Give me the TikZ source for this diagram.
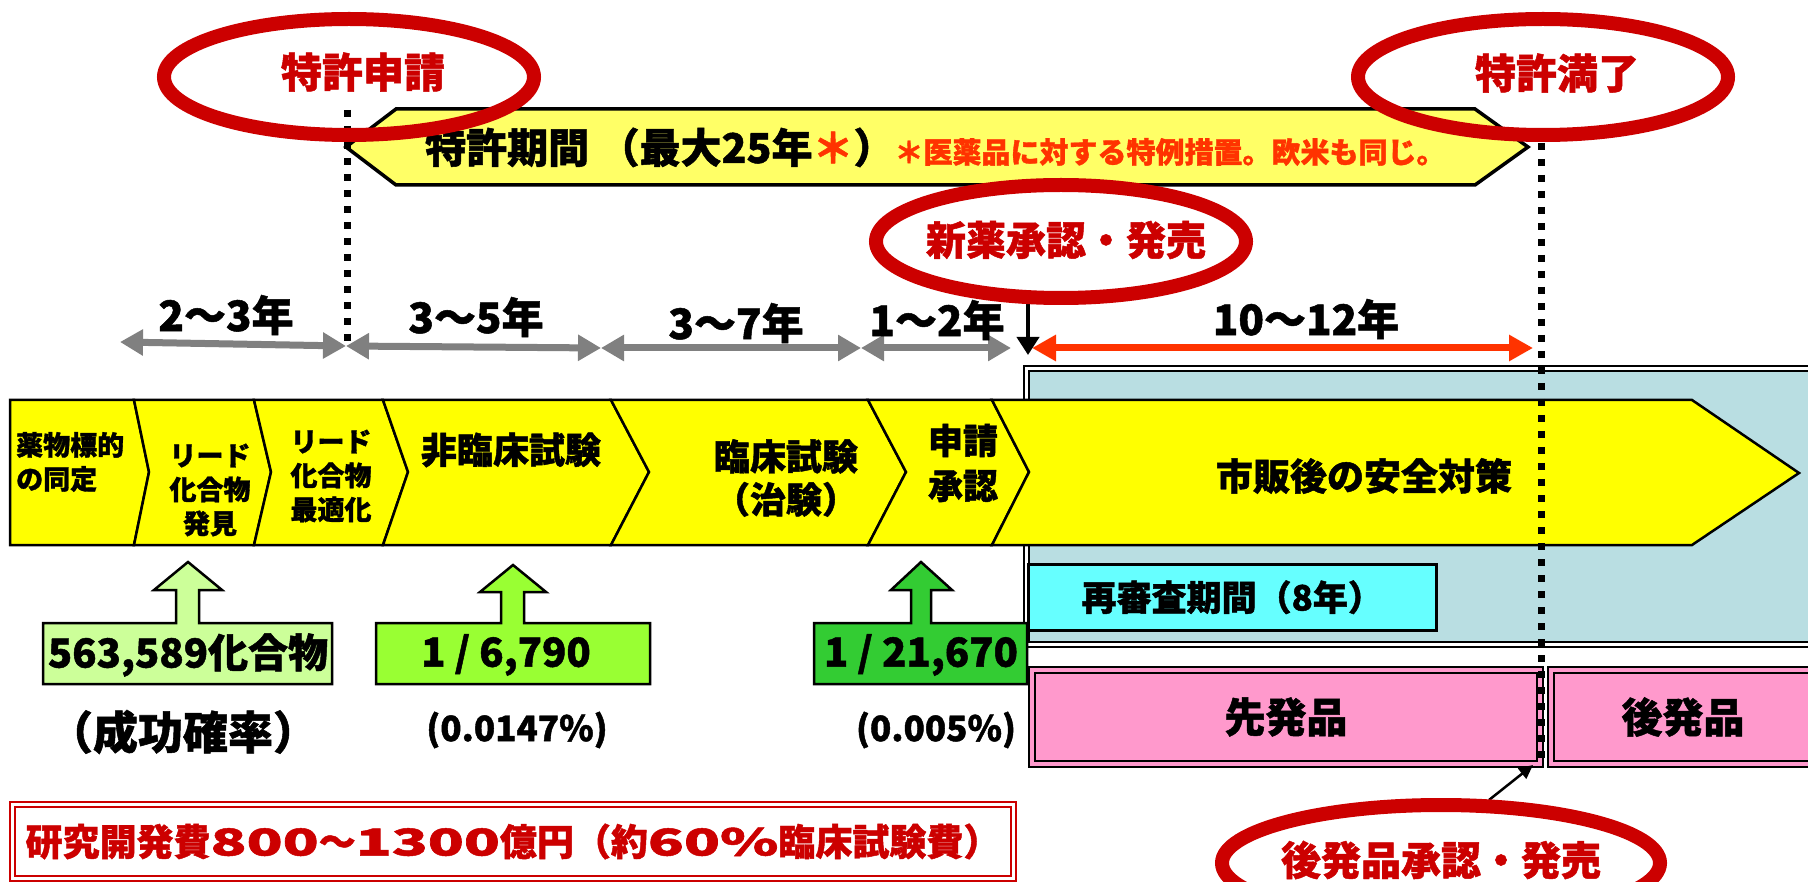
\documentclass[tikz,border=0pt]{standalone}
\usepackage{fontspec}
\usepackage{graphicx}
\setmainfont{Noto Sans CJK JP}[BoldFeatures={FakeBold=1.2}]
\usetikzlibrary{shapes.geometric,arrows.meta}
\definecolor{ellred}{HTML}{CC0000}
\definecolor{orred}{HTML}{FF3300}
\definecolor{pentyel}{HTML}{FFFF66}
\definecolor{bandyel}{HTML}{FFFF00}
\definecolor{garrow}{HTML}{808080}
\definecolor{lblue}{HTML}{B9DEE2}
\definecolor{cyanbox}{HTML}{66FFFF}
\definecolor{pinkbox}{HTML}{FF99CC}
\definecolor{gA}{HTML}{CCFF99}
\definecolor{gB}{HTML}{99FF33}
\definecolor{gC}{HTML}{33CC33}
\newcommand{\pxf}[2]{\fontsize{#1}{#2}\selectfont}
\newcommand{\wdig}[1]{\scalebox{1.6}[1]{#1}}
\tikzset{
  redell/.style={ellipse, draw=ellred, line width=14pt, inner sep=0pt},
  redtxt/.style={text=ellred, font=\bfseries\pxf{41}{41}, inner sep=0pt},
  seg/.style={draw=black, fill=bandyel, line width=2.5pt, line join=miter},
  pent/.style={draw=black, fill=pentyel, line width=3.5pt, line join=miter},
  gar/.style={draw=garrow, line width=7pt, arrows={Triangle[length=23pt,width=25pt]-Triangle[length=23pt,width=25pt]}},
  rar/.style={draw=orred, line width=7pt, arrows={Triangle[length=24pt,width=25pt]-Triangle[length=24pt,width=25pt]}},
  bar/.style={draw=black, line width=4pt, arrows={-Triangle[length=18pt,width=22pt]}},
  sar/.style={draw=black, line width=2.5pt, arrows={-Triangle[length=14pt,width=13pt]}},
  dotln/.style={draw=black, line width=7pt, dash pattern=on 7pt off 9pt},
  durlbl/.style={font=\bfseries\pxf{42}{42}, inner sep=0pt},
  chev/.style={font=\bfseries\pxf{27}{34}, inner sep=0pt, align=center},
  bigtxt/.style={font=\bfseries\pxf{36}{43}, inner sep=0pt, align=center},
  numtxt/.style={font=\bfseries\pxf{40}{40}, inner sep=0pt},
  pcttxt/.style={font=\bfseries\pxf{35}{35}, inner sep=0pt},
  call/.style={draw=black, line width=2.5pt, line join=miter},
  pinkb/.style={draw=black, fill=pinkbox, line width=2pt, double=pinkbox, double distance=4pt, inner sep=0pt, font=\bfseries\pxf{41}{41}},
}
\begin{document}
\begin{tikzpicture}[x=1pt,y=-1pt]
\useasboundingbox[fill=white] (0,0) rectangle (1808,882);

% light blue market region
\draw[line width=2pt, double=white, double distance=3pt, fill=lblue] (1026,368.5) rectangle (1840,644.5);

% re-examination box
\node[draw=black, fill=cyanbox, line width=2.5pt, minimum width=408pt, minimum height=66pt, anchor=north west, inner sep=0pt, font=\bfseries\pxf{35}{35}] (rev) at (1027,563) {再審査期間（8年）};

% pink boxes
\node[pinkb, minimum width=508pt, minimum height=94pt] (first) at (1286,717) {先発品};
\node[pinkb, minimum width=264pt, minimum height=94pt] (gen) at (1683,717) {後発品};

% chevron band
\path[seg] (10,400) -- (134,400) -- (149,472) -- (134,545) -- (10,545) -- cycle;
\path[seg] (134,400) -- (254,400) -- (271,472) -- (254,545) -- (134,545) -- (149,472) -- cycle;
\path[seg] (254,400) -- (383,400) -- (408,472) -- (383,545) -- (254,545) -- (271,472) -- cycle;
\path[seg] (383,400) -- (611,400) -- (649,472) -- (611,545) -- (383,545) -- (408,472) -- cycle;
\path[seg] (611,400) -- (868,400) -- (906,472) -- (868,545) -- (611,545) -- (649,472) -- cycle;
\path[seg] (868,400) -- (992,400) -- (1029,472) -- (992,545) -- (868,545) -- (906,472) -- cycle;
\path[seg] (992,400) -- (1692,400) -- (1799,473) -- (1692,545) -- (992,545) -- (1029,472) -- cycle;

\node[chev, align=left, anchor=west] (c1) at (16,462) {薬物標的\\の同定};
\node[chev] (c2) at (210,490) {リード\\化合物\\発見};
\node[chev] (c3) at (331,476) {リード\\化合物\\最適化};
\node[bigtxt] (c4) at (511,450) {非臨床試験};
\node[bigtxt] (c5) at (786,478) {臨床試験\\（治験）};
\node[font=\bfseries\pxf{35}{45}, inner sep=0pt, align=center] (c6) at (963,463) {申請\\承認};
\node[font=\bfseries\pxf{37}{37}, inner sep=0pt] (c7) at (1364,476) {市販後の安全対策};

% callouts
\path[call, fill=gA] (43,623) -- (176,623) -- (176,590) -- (154,590) -- (188,562) -- (222,590) -- (199,590) -- (199,623) -- (332,623) -- (332,684) -- (43,684) -- cycle;
\path[call, fill=gB] (376,623) -- (501,623) -- (501,592) -- (480,592) -- (513,565) -- (546,592) -- (524,592) -- (524,623) -- (650,623) -- (650,684) -- (376,684) -- cycle;
\path[call, fill=gC] (814,623) -- (911,623) -- (911,590) -- (891,590) -- (921,562) -- (952,590) -- (931,590) -- (931,623) -- (1027,623) -- (1027,684) -- (814,684) -- cycle;
\node[numtxt] (n1) at (188,655) {563,589化合物};
\node[numtxt] (n2) at (506,655) {1 / 6,790};
\node[numtxt] (n3) at (921,655) {1 / 21,670};

\node[font=\bfseries\pxf{45}{45}, inner sep=0pt] (p0) at (183,732) {（成功確率）};
\node[pcttxt] (p1) at (517,730) {(0.0147\%)};
\node[pcttxt] (p2) at (936,730) {(0.005\%)};

% cost box
\node[draw=ellred, line width=2pt, double=white, double distance=3pt, minimum width=1001pt, minimum height=74pt, inner sep=0pt, text=ellred, font=\bfseries\pxf{37}{37}] (cost) at (513,841.5) {研究開発費\wdig{800}～\wdig{1300}億円（約\wdig{60\%}臨床試験費）};

% patent period pentagon
\path[pent] (346,147) -- (396,109) -- (1475,109) -- (1528,147) -- (1475,185) -- (396,185) -- cycle;
\node[anchor=base west, inner sep=0pt, font=\bfseries\pxf{41}{41}] (pt) at (425,163) {特許期間 （最大25年\textcolor{orred}{＊}）{\pxf{29}{29}\textcolor{orred}{＊医薬品に対する特例措置。欧米も同じ。}}};

% duration arrows
\coordinate (a0) at (120,342);
\coordinate (a1) at (346,346);
\coordinate (a2) at (601,348);
\coordinate (a3) at (861,348);
\coordinate (a4) at (1011,348);
\draw[gar] (a0) -- (a1);
\draw[gar] (a1) -- (a2);
\draw[gar] (a2) -- (a3);
\draw[gar] (a3) -- (a4);
\coordinate (r0) at (1032,348);
\coordinate (r1) at (1533,348);
\draw[rar] (r0) -- (r1);
\coordinate (b0) at (1028,300);
\coordinate (b1) at (1028,355);
\draw[bar] (b0) -- (b1);

\node[durlbl] (l1) at (226,315) {2〜3年};
\node[durlbl] (l2) at (476,317) {3〜5年};
\node[durlbl] (l3) at (736,323) {3〜7年};
\node[durlbl] (l4) at (937,320) {1〜2年};
\node[durlbl] (l5) at (1306,319) {10〜12年};

% dotted lines
\coordinate (d1a) at (347,110);
\coordinate (d1b) at (347,342);
\coordinate (d2a) at (1541,143);
\coordinate (d2b) at (1541,766);
\draw[dotln] (d1a) -- (d1b);
\draw[dotln] (d2a) -- (d2b);

% small arrow to generic launch
\coordinate (s0) at (1489,800);
\coordinate (s1) at (1533,765);
\draw[sar] (s0) -- (s1);

% red ellipses
\node[redell, minimum width=370pt, minimum height=116pt] (e1) at (349,77) {};
\node[redtxt] (t1) at (363,72) {特許申請};
\node[redell, minimum width=370pt, minimum height=116pt] (e2) at (1543,77) {};
\node[redtxt] (t2) at (1557,73) {特許満了};
\node[redell, minimum width=370pt, minimum height=113pt] (e3) at (1061,241.5) {};
\node[redtxt, font=\bfseries\pxf{40}{40}] (t3) at (1066,240) {新薬承認・発売};
\node[redell, minimum width=438pt, minimum height=116pt] (e4) at (1441,863) {};
\node[redtxt, font=\bfseries\pxf{40}{40}] (t4) at (1441,860) {後発品承認・発売};
\end{tikzpicture}
\end{document}
